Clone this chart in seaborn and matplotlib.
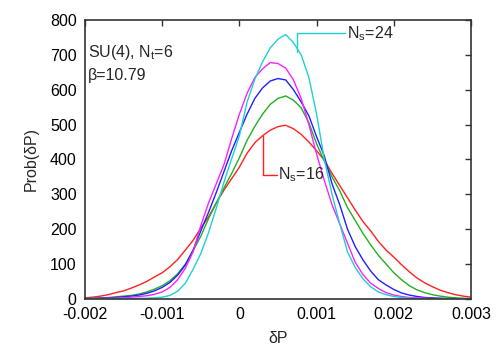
import matplotlib
matplotlib.use("Agg")
import matplotlib.pyplot as plt
import seaborn as sns
import pandas as pd
import numpy as np

# dP grid (bin centres, step 1e-4) and histogram heights
dP = [round(-0.002 + 0.0001 * i, 4) for i in range(51)]

red = [3, 5, 8, 12, 18, 23, 31, 40, 50, 63,
       75, 92, 113, 140, 168, 203, 235, 275, 312, 345,
       378, 418, 448, 468, 484, 494, 498, 488, 472, 450,
       425, 398, 360, 325, 290, 255, 222, 195, 165, 140,
       120, 98, 78, 60, 46, 35, 25, 18, 12, 8, 5]
green = [1, 2, 3, 4, 6, 8, 10, 14, 20, 28,
         38, 52, 72, 100, 138, 180, 230, 275, 318, 360,
         405, 455, 495, 530, 558, 575, 582, 570, 548, 505,
         445, 395, 350, 310, 262, 225, 188, 155, 125, 100,
         75, 55, 38, 26, 18, 12, 8, 5, 3, 2, 1]
blue = [1, 1, 2, 3, 4, 6, 8, 11, 16, 23,
        33, 47, 68, 97, 140, 195, 248, 305, 365, 425,
        478, 530, 575, 605, 625, 632, 628, 600, 565, 525,
        465, 410, 330, 270, 200, 150, 112, 80, 55, 40,
        27, 17, 11, 7, 4, 3, 2, 1, 1, 0, 0]
magenta = [0, 1, 1, 2, 2, 3, 5, 7, 9, 13,
           20, 33, 55, 88, 135, 210, 275, 330, 385, 460,
           530, 590, 635, 660, 678, 675, 662, 628, 575, 500,
           415, 340, 270, 215, 160, 105, 70, 45, 30, 18,
           11, 7, 4, 3, 2, 1, 1, 0, 0, 0, 0]
cyan = [0, 0, 0, 0, 1, 1, 1, 2, 2, 3,
        5, 10, 22, 45, 85, 130, 190, 260, 335, 402,
        468, 565, 630, 680, 720, 745, 758, 735, 700, 635,
        530, 400, 300, 215, 135, 90, 58, 35, 20, 12,
        7, 4, 2, 1, 0, 0, 0, 0, 0, 0, 0]

series = ['r', 'g', 'b', 'm', 'c']
colors = ['#ff2020', '#20b020', '#2020ff', '#ff20ff', '#20d0d0']

df = pd.DataFrame({
    'dP': dP * 5,
    'prob': red + green + blue + magenta + cyan,
    'set': sum([[s] * len(dP) for s in series], []),
})

sns.set_style('white')
plt.rcParams['font.family'] = ['Liberation Sans', 'DejaVu Sans']
plt.rcParams['mathtext.fontset'] = 'custom'
plt.rcParams['mathtext.rm'] = 'Liberation Sans'

fs = 11.5
fig = plt.figure(figsize=(5, 3.5), dpi=100)
ax = fig.add_axes([0.17, 0.146, 0.772, 0.797])

sns.lineplot(data=df, x='dP', y='prob', hue='set', palette=dict(zip(series, colors)),
             linewidth=1, legend=False, ax=ax)

ax.set_xlim(-0.002, 0.003)
ax.set_ylim(0, 800)
ax.set_xticks([-0.002, -0.001, 0, 0.001, 0.002, 0.003])
ax.set_xticklabels(['-0.002', '-0.001', '0', '0.001', '0.002', '0.003'])
ax.set_yticks(range(0, 801, 100))
ax.tick_params(direction='in', top=True, right=True, length=4, width=1,
               labelsize=fs, colors='#333333', labelcolor='black', pad=6)
for sp in ax.spines.values():
    sp.set_color('#333333')
    sp.set_linewidth(1.2)

ax.set_xlabel('δP', fontsize=fs, labelpad=6)
ax.set_ylabel('Prob(δP)', fontsize=fs, labelpad=8)

# labels inside the plot
ax.text(-0.00196, 708, 'SU(4), N$_\\mathregular{t}$=6', fontsize=fs, va='center', ha='left')
ax.text(-0.00196, 642, 'β=10.79', fontsize=fs, va='center', ha='left')

ax.plot([0.00075, 0.00075, 0.00137], [708, 762, 762], color=colors[4], lw=1)
ax.text(0.0014, 762, 'N$_\\mathregular{s}$=24', fontsize=fs, va='center', ha='left')
ax.plot([0.000306, 0.000306, 0.00049], [467, 355, 355], color=colors[0], lw=1)
ax.text(0.0005, 355, 'N$_\\mathregular{s}$=16', fontsize=fs, va='center', ha='left')

fig.savefig('out.png', dpi=100)
